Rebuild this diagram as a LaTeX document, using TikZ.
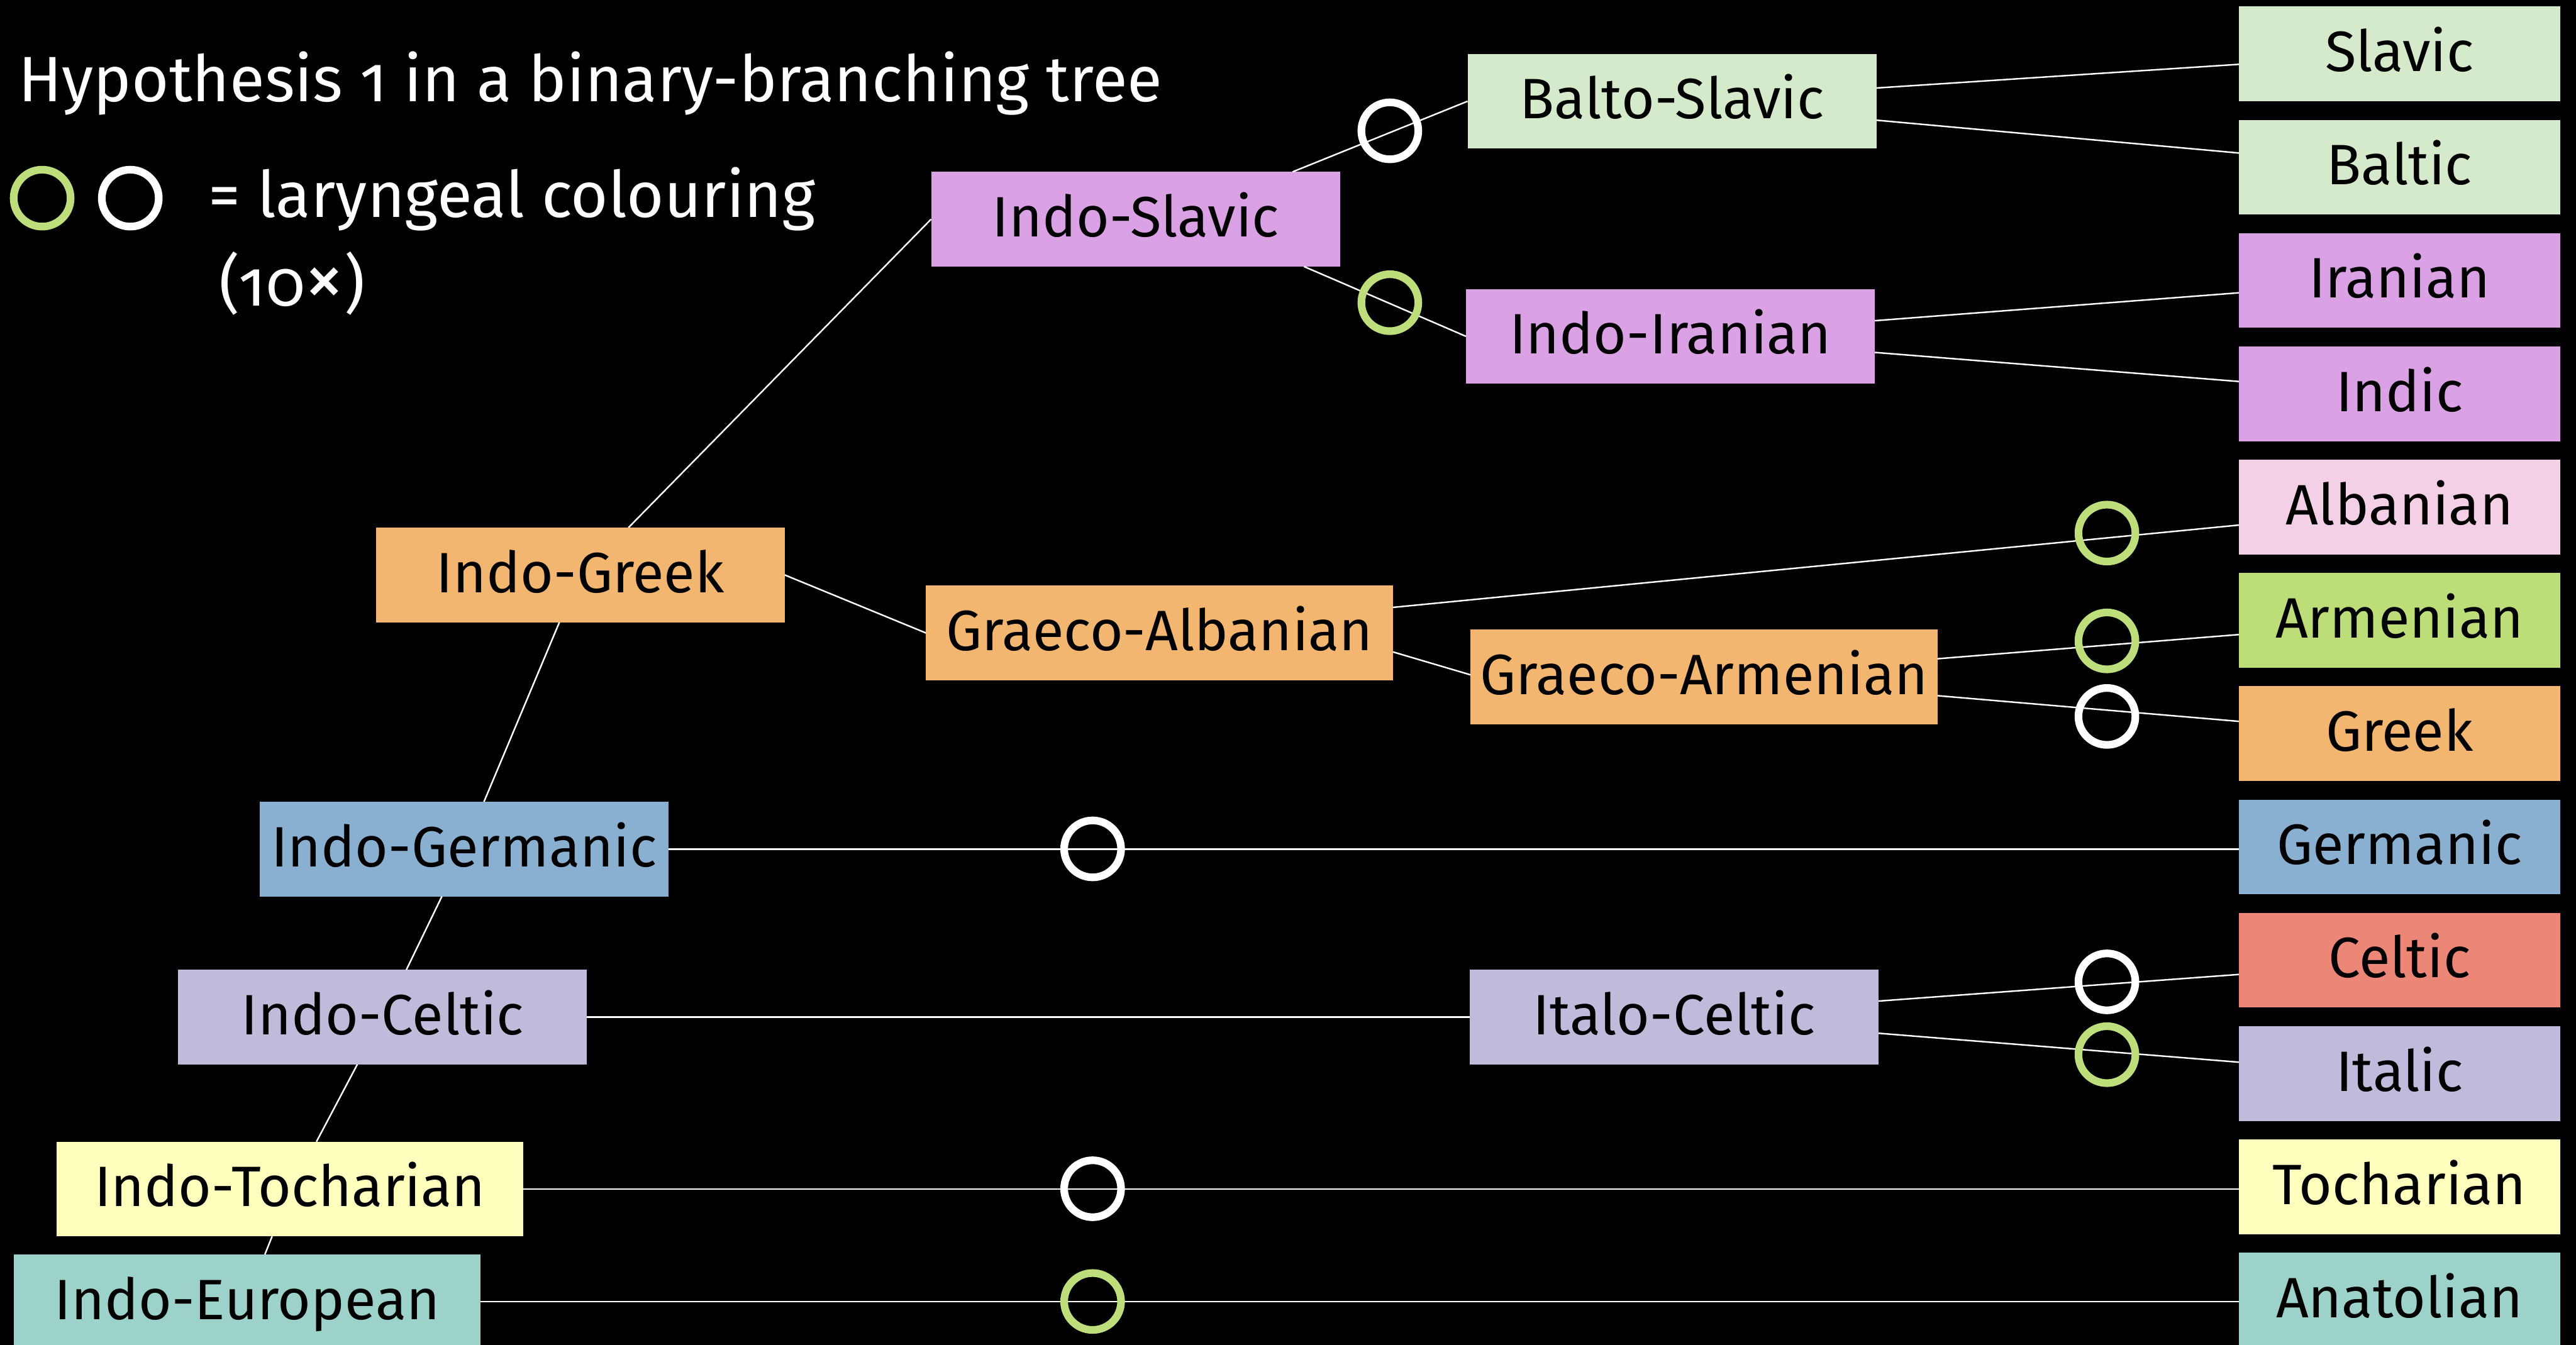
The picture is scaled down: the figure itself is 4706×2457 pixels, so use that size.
\documentclass[tikz,border=0pt]{standalone}
\usepackage{fontspec}
\setmainfont{Fira Sans}[Numbers=OldStyle]
\usetikzlibrary{calc}
\definecolor{lgreen}{HTML}{D4EACA}
\definecolor{violet}{HTML}{DBA1E5}
\definecolor{pinkc}{HTML}{F3D0E6}
\definecolor{armgreen}{HTML}{BDDD79}
\definecolor{orangec}{HTML}{F2B670}
\definecolor{bluec}{HTML}{8AB0D1}
\definecolor{salmon}{HTML}{EC8677}
\definecolor{lavender}{HTML}{BEBCDA}
\definecolor{yellowc}{HTML}{FFFFBE}
\definecolor{tealc}{HTML}{9CD2C9}
\definecolor{ringgreen}{HTML}{BEDD7B}
\begin{document}
\begin{tikzpicture}[x=0.25pt,y=-0.25pt,
  box/.style={rectangle, inner sep=0pt, outer sep=0pt, minimum height=43.25pt,
    text=black, font=\fontsize{26}{30}\selectfont, text height=20pt, text depth=4pt},
  leaf/.style={box, minimum width=146.75pt},
  midbox/.style={box, minimum width=186.75pt},
  widebox/.style={box, minimum width=213.25pt},
  conn/.style={draw=white, line width=0.7pt},
  ring/.style={circle, draw=#1, line width=3.5pt, minimum size=26pt, inner sep=0pt},
  wtext/.style={text=white, anchor=base west, inner sep=0pt, font=\fontsize{29.3}{34}\selectfont}]
\fill[black] (0,0) rectangle (4706,2457);
\useasboundingbox (0,0) rectangle (4706,2457);

% title and legend
\node[wtext] (title) at (33,185) {Hypothesis 1 in a binary-branching tree};
\node[ring=ringgreen] (leggreen) at (77,362) {};
\node[ring=white] (legwhite) at (238,362) {};
\node[wtext] (legtext) at (380,397) {= laryngeal colouring};
\node[wtext] (legnum) at (400,559) {(10{\fontsize{36}{34}\selectfont ×})};

% leaves
\node[leaf, fill=lgreen] (slavic) at (4383.5,98.5) {Slavic};
\node[leaf, fill=lgreen] (baltic) at (4383.5,305.5) {Baltic};
\node[leaf, fill=violet] (iranian) at (4383.5,512.5) {Iranian};
\node[leaf, fill=violet] (indic) at (4383.5,719.5) {Indic};
\node[leaf, fill=pinkc] (albanian) at (4383.5,926.5) {Albanian};
\node[leaf, fill=armgreen] (armenian) at (4383.5,1133.5) {Armenian};
\node[leaf, fill=orangec] (greek) at (4383.5,1340.5) {Greek};
\node[leaf, fill=bluec] (germanic) at (4383.5,1547.5) {Germanic};
\node[leaf, fill=salmon] (celtic) at (4383.5,1754.5) {Celtic};
\node[leaf, fill=lavender] (italic) at (4383.5,1961.5) {Italic};
\node[leaf, fill=yellowc] (tocharian) at (4383.5,2168.5) {Tocharian};
\node[leaf, fill=tealc] (anatolian) at (4383.5,2375.5) {Anatolian};

% inner nodes
\node[midbox, fill=lgreen] (baltoslavic) at (3054.5,185) {Balto-Slavic};
\node[midbox, fill=violet] (indoslavic) at (2074.5,400.5) {Indo-Slavic};
\node[midbox, fill=violet] (indoiranian) at (3051.5,614.5) {Indo-Iranian};
\node[midbox, fill=orangec] (indogreek) at (1060,1050.5) {Indo-Greek};
\node[widebox, fill=orangec] (graecoalb) at (2118,1156.5) {Graeco-Albanian};
\node[widebox, fill=orangec] (graecoarm) at (3113,1236.5) {Graeco-Armenian};
\node[midbox, fill=bluec] (indogerm) at (847.5,1551.5) {Indo-Germanic};
\node[midbox, fill=lavender] (italoceltic) at (3058.5,1858.5) {Italo-Celtic};
\node[midbox, fill=lavender] (indoceltic) at (699,1858.5) {Indo-Celtic};
\node[widebox, fill=yellowc] (indotoch) at (529.5,2172.5) {Indo-Tocharian};
\node[widebox, fill=tealc] (indoeur) at (451.5,2378.5) {Indo-European};

% spine
\draw[conn] ($(indoslavic.north west)!0.884!(indoslavic.north east)$) -- (baltoslavic.west);
\draw[conn] ($(indoslavic.south west)!0.912!(indoslavic.south east)$) -- (indoiranian.west);
\draw[conn] ($(indogreek.north west)!0.618!(indogreek.north east)$) -- (indoslavic.west);
\draw[conn] (indogreek.east) -- (graecoalb.west);
\draw[conn] ($(indogreek.south west)!0.449!(indogreek.south east)$) -- ($(indogerm.north west)!0.549!(indogerm.north east)$);
\draw[conn] ($(indogerm.south west)!0.446!(indogerm.south east)$) -- ($(indoceltic.north west)!0.558!(indoceltic.north east)$);
\draw[conn] ($(indoceltic.south west)!0.438!(indoceltic.south east)$) -- ($(indotoch.north west)!0.557!(indotoch.north east)$);
\draw[conn] ($(indotoch.south west)!0.462!(indotoch.south east)$) -- ($(indoeur.north west)!0.538!(indoeur.north east)$);

% branches to leaves
\draw[conn] ($(baltoslavic.north east)!0.36!(baltoslavic.south east)$) -- ($(slavic.north west)!0.61!(slavic.south west)$);
\draw[conn] ($(baltoslavic.north east)!0.70!(baltoslavic.south east)$) -- ($(baltic.north west)!0.35!(baltic.south west)$);
\draw[conn] ($(indoiranian.north east)!0.335!(indoiranian.south east)$) -- ($(iranian.north west)!0.63!(iranian.south west)$);
\draw[conn] ($(indoiranian.north east)!0.67!(indoiranian.south east)$) -- ($(indic.north west)!0.37!(indic.south west)$);
\draw[conn] ($(graecoalb.north east)!0.23!(graecoalb.south east)$) -- ($(albanian.north west)!0.69!(albanian.south west)$);
\draw[conn] ($(graecoalb.north east)!0.70!(graecoalb.south east)$) -- ($(graecoarm.north west)!0.48!(graecoarm.south west)$);
\draw[conn] ($(graecoarm.north east)!0.31!(graecoarm.south east)$) -- ($(armenian.north west)!0.65!(armenian.south west)$);
\draw[conn] ($(graecoarm.north east)!0.70!(graecoarm.south east)$) -- ($(greek.north west)!0.37!(greek.south west)$);
\draw[conn] (indogerm.east) -- (indogerm.east -| germanic.west);
\draw[conn] (indoceltic.east) -- (italoceltic.west);
\draw[conn] ($(italoceltic.north east)!0.33!(italoceltic.south east)$) -- ($(celtic.north west)!0.65!(celtic.south west)$);
\draw[conn] ($(italoceltic.north east)!0.67!(italoceltic.south east)$) -- ($(italic.north west)!0.38!(italic.south west)$);
\draw[conn] (indotoch.east) -- (indotoch.east -| tocharian.west);
\draw[conn] (indoeur.east) -- (indoeur.east -| anatolian.west);

% laryngeal rings
\node[ring=white] (r1) at (2539,239) {};
\node[ring=ringgreen] (r2) at (2539,553) {};
\node[ring=ringgreen] (r3) at (3849,974) {};
\node[ring=ringgreen] (r4) at (3849,1171) {};
\node[ring=white] (r5) at (3849,1309) {};
\node[ring=white] (r6) at (1996,1551) {};
\node[ring=white] (r7) at (3849,1794) {};
\node[ring=ringgreen] (r8) at (3849,1927) {};
\node[ring=white] (r9) at (1996,2172) {};
\node[ring=ringgreen] (r10) at (1996,2378) {};
\end{tikzpicture}
\end{document}
